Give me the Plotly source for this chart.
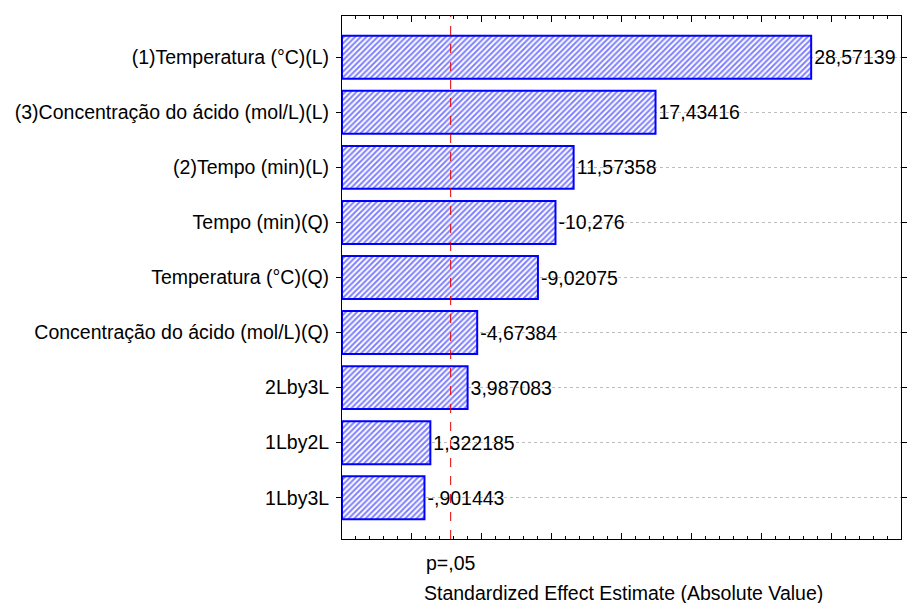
import plotly.graph_objects as go

# Pareto chart of standardized effects (absolute value)
factors = [
    "(1)Temperatura (°C)(L)",
    "(3)Concentração do ácido (mol/L)(L)",
    "(2)Tempo (min)(L)",
    "Tempo (min)(Q)",
    "Temperatura (°C)(Q)",
    "Concentração do ácido (mol/L)(Q)",
    "2Lby3L",
    "1Lby2L",
    "1Lby3L",
]
effects = [28.57139, 17.43416, 11.57358, -10.276, -9.02075, -4.67384, 3.987083, 1.322185, -0.901443]
effect_labels = ["28,57139", "17,43416", "11,57358", "-10,276", "-9,02075", "-4,67384",
                 "3,987083", "1,322185", "-,901443"]
t_critical = 2.776  # p = .05
x_min, x_max = -5, 35

abs_effects = [abs(v) for v in effects]
BLUE = "#0000FF"
FONT = "Liberation Sans, Arial"
FS = 19.5

fig = go.Figure()
fig.add_trace(go.Bar(
    y=factors,
    x=[v - x_min for v in abs_effects],
    base=x_min,
    orientation="h",
    width=0.78,
    marker=dict(
        color="white",
        line=dict(color=BLUE, width=2),
        pattern=dict(shape="/", fgcolor=BLUE, bgcolor="white", size=4, solidity=0.5),
    ),
    text=effect_labels,
    textposition="outside",
    textfont=dict(family=FONT, size=FS, color="black"),
    cliponaxis=False,
))

fig.add_shape(type="line", xref="x", yref="paper", x0=t_critical, x1=t_critical, y0=0, y1=1,
              line=dict(color="#E00000", width=1, dash="dash"))

fig.add_annotation(x=t_critical, xref="x", y=-0.046, yref="paper", text="p=,05", showarrow=False,
                   xanchor="center", yanchor="middle",
                   font=dict(family=FONT, size=FS, color="black"))
fig.add_annotation(x=0.5, xref="paper", y=-0.103, yref="paper", xshift=2,
                   text="Standardized Effect Estimate (Absolute Value)", showarrow=False,
                   xanchor="center", yanchor="middle",
                   font=dict(family=FONT, size=FS, color="black"))

fig.update_layout(
    width=910, height=603,
    margin=dict(l=342, r=3, t=16, b=64),
    paper_bgcolor="white", plot_bgcolor="white",
    showlegend=False,
    font=dict(family=FONT, size=FS, color="black"),
    xaxis=dict(
        range=[x_min, x_max],
        tickvals=list(range(x_min, x_max + 1, 5)),
        ticktext=[""] * 9,
        ticks="inside", ticklen=6, tickcolor="black",
        minor=dict(dtick=1, ticks="inside", ticklen=3, tickcolor="black", showgrid=False),
        showgrid=False, zeroline=False,
        showline=True, linecolor="black", linewidth=1, mirror="ticks",
    ),
    yaxis=dict(
        categoryorder="array", categoryarray=factors,
        range=[8.75, -0.75],
        ticks="outside", ticklen=5, tickcolor="black",
        ticklabelstandoff=3,
        showgrid=True, gridcolor="#BDBDBD", griddash="dot", gridwidth=1,
        showline=True, linecolor="black", linewidth=1, mirror="ticks",
        tickfont=dict(family=FONT, size=FS, color="black"),
    ),
)

fig.write_html("out.html")
